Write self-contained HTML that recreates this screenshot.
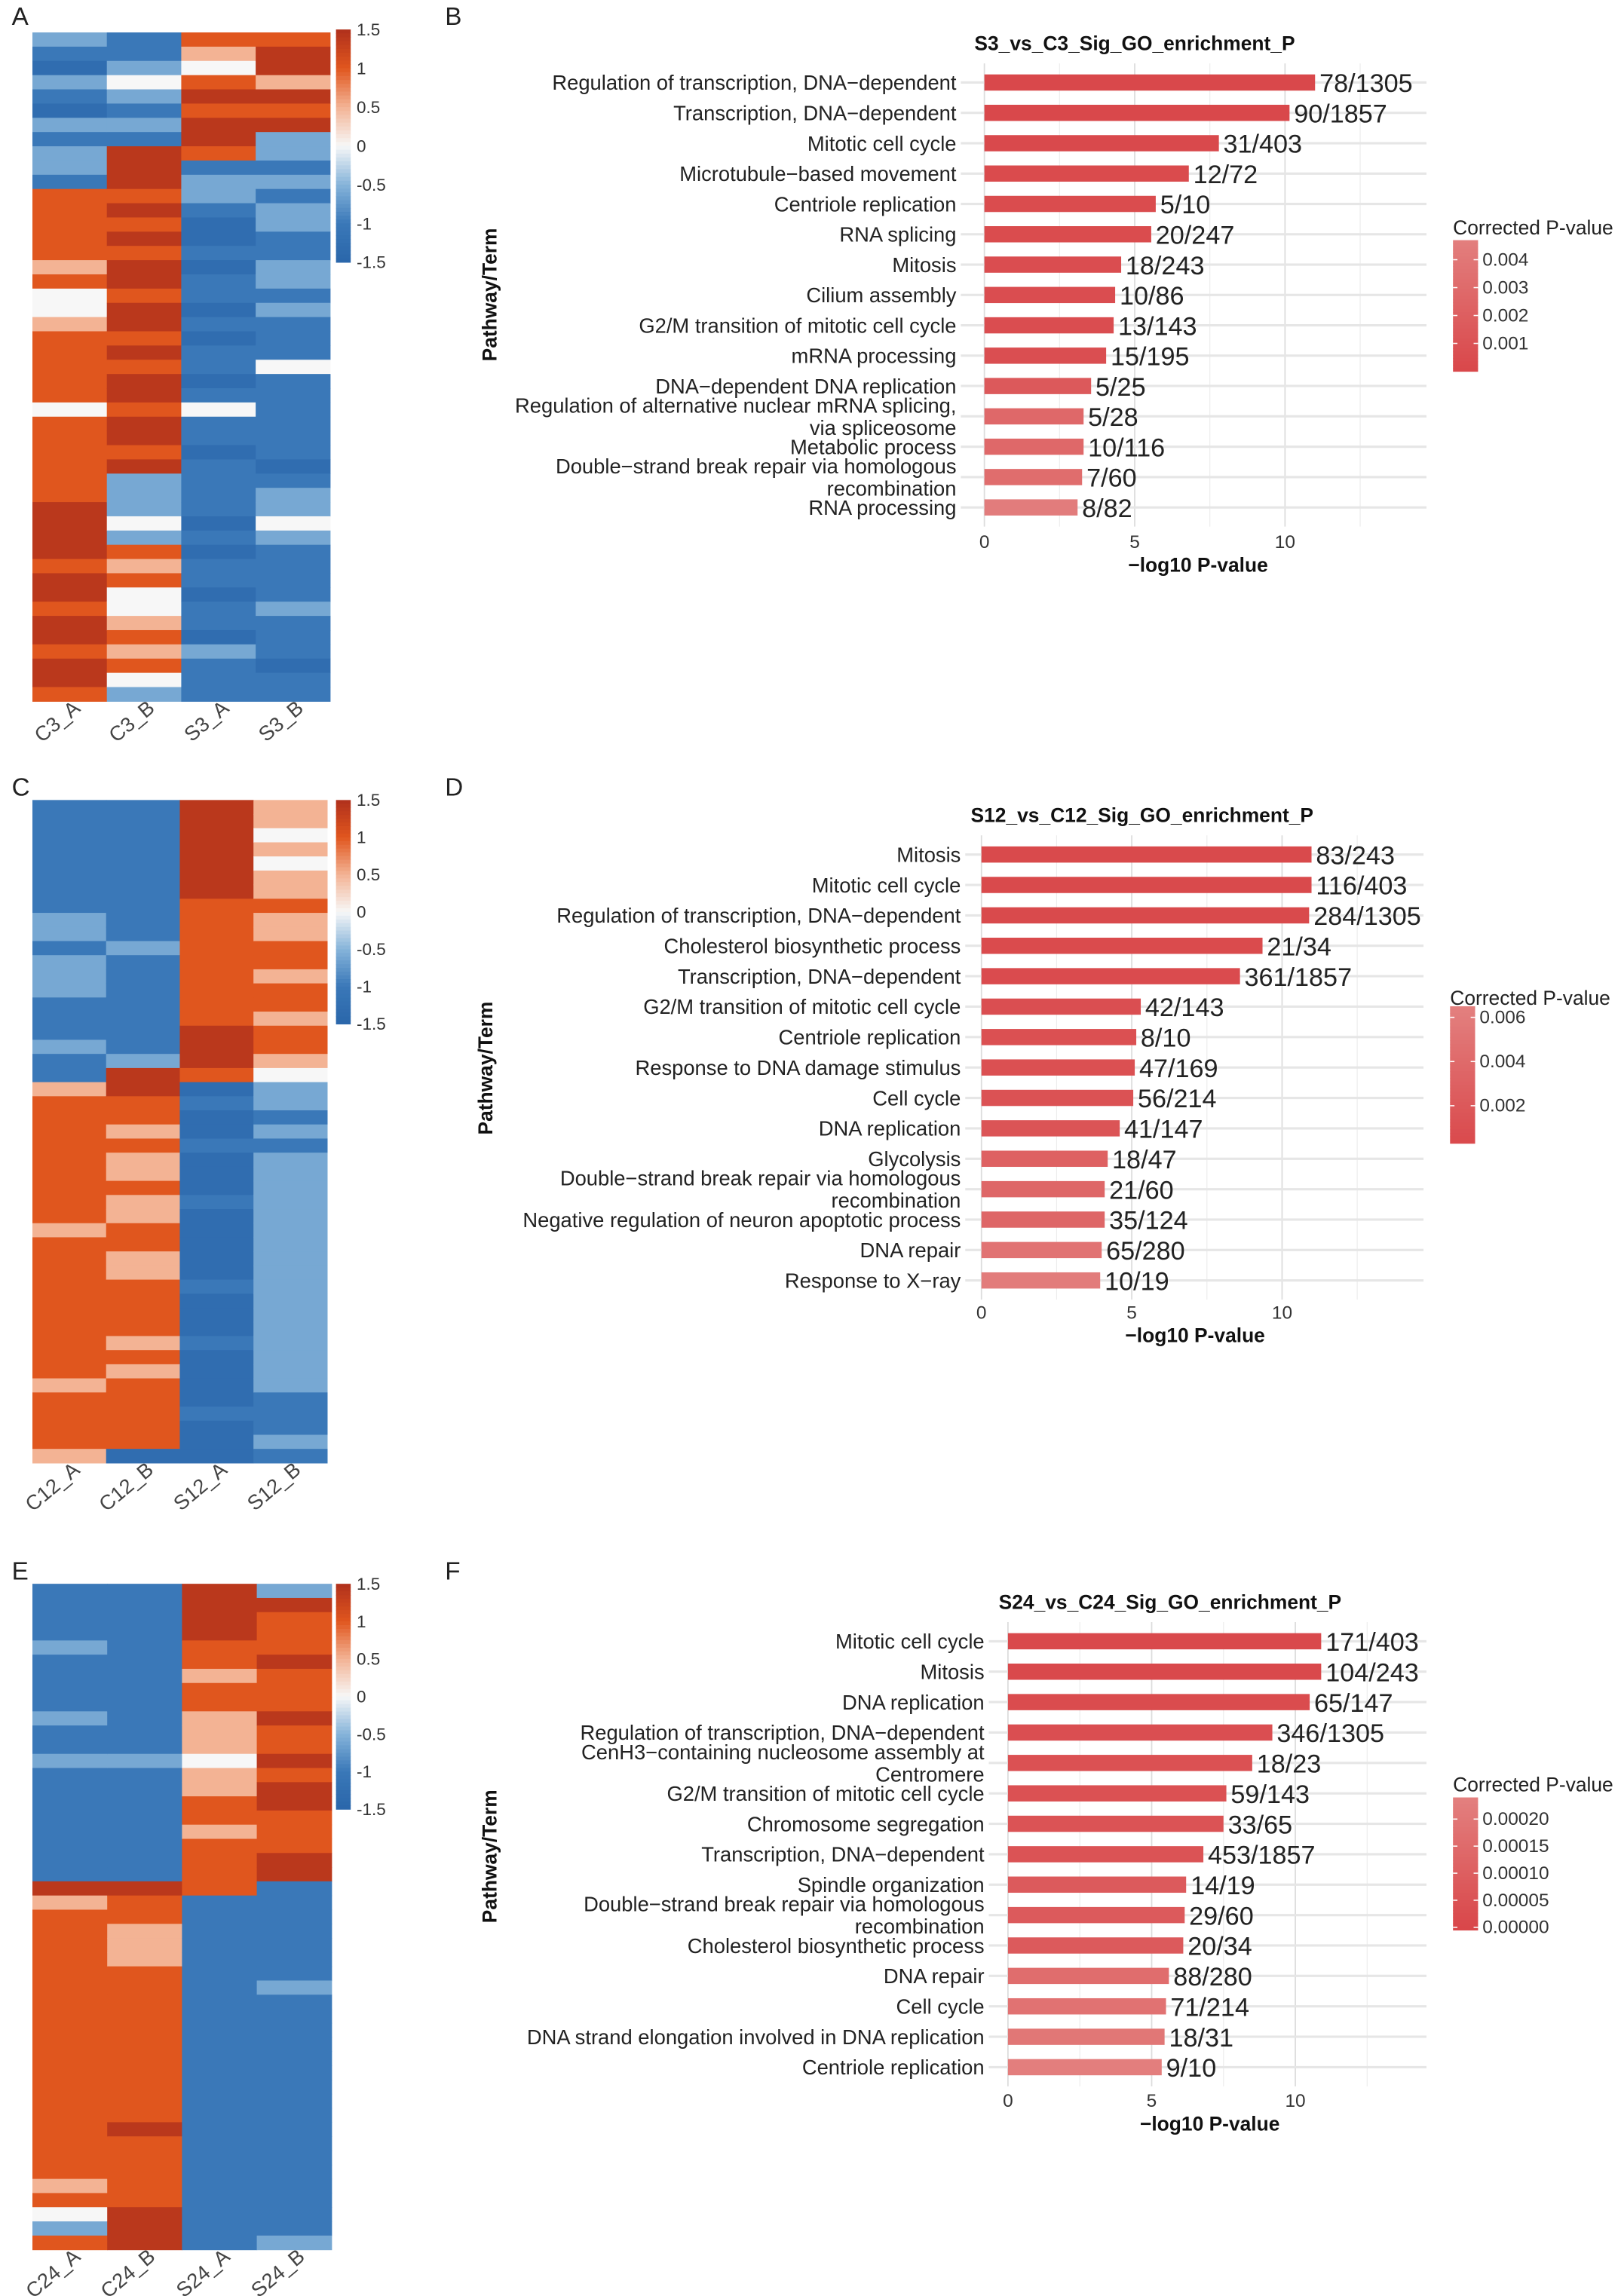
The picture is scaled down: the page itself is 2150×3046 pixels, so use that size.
<!DOCTYPE html>
<html><head><meta charset="utf-8">
<style>
html,body{margin:0;padding:0;background:#fff;}
svg{display:block;font-family:"Liberation Sans Narrow","Liberation Sans",sans-serif;}
</style></head>
<body>
<svg id="fig" width="2150" height="3046" viewBox="0 0 1100 1558.4" xmlns="http://www.w3.org/2000/svg"></svg>
<script>
// ---------- DATA ----------
const termsB = ["Regulation of transcription, DNA\u2212dependent","Transcription, DNA\u2212dependent","Mitotic cell cycle","Microtubule\u2212based movement","Centriole replication","RNA splicing","Mitosis","Cilium assembly","G2/M transition of mitotic cell cycle","mRNA processing","DNA\u2212dependent DNA replication","Regulation of alternative nuclear mRNA splicing,|via spliceosome","Metabolic process","Double\u2212strand break repair via homologous|recombination","RNA processing"];
const valuesB = [11.0,10.15,7.8,6.8,5.7,5.55,4.55,4.35,4.3,4.05,3.55,3.3,3.3,3.25,3.1];
const countsB = ["78/1305","90/1857","31/403","12/72","5/10","20/247","18/243","10/86","13/143","15/195","5/25","5/28","10/116","7/60","8/82"];
const pB = [0.0001,0.0001,0.0002,0.0003,0.0004,0.0004,0.0005,0.0005,0.0005,0.0006,0.0015,0.0028,0.0028,0.0032,0.0045];
const legendTicksB = [0.004,0.003,0.002,0.001];

const termsD = ["Mitosis","Mitotic cell cycle","Regulation of transcription, DNA\u2212dependent","Cholesterol biosynthetic process","Transcription, DNA\u2212dependent","G2/M transition of mitotic cell cycle","Centriole replication","Response to DNA damage stimulus","Cell cycle","DNA replication","Glycolysis","Double\u2212strand break repair via homologous|recombination","Negative regulation of neuron apoptotic process","DNA repair","Response to X\u2212ray"];
const valuesD = [10.98,10.98,10.9,9.35,8.6,5.3,5.15,5.1,5.05,4.6,4.2,4.1,4.1,4.0,3.95];
const countsD = ["83/243","116/403","284/1305","21/34","361/1857","42/143","8/10","47/169","56/214","41/147","18/47","21/60","35/124","65/280","10/19"];
const pD = [0.0003,0.0003,0.0003,0.0004,0.0005,0.0008,0.001,0.001,0.0012,0.0015,0.003,0.0035,0.0035,0.005,0.006];
const legendTicksD = [0.006,0.004,0.002];

const termsF = ["Mitotic cell cycle","Mitosis","DNA replication","Regulation of transcription, DNA\u2212dependent","CenH3\u2212containing nucleosome assembly at|Centromere","G2/M transition of mitotic cell cycle","Chromosome segregation","Transcription, DNA\u2212dependent","Spindle organization","Double\u2212strand break repair via homologous|recombination","Cholesterol biosynthetic process","DNA repair","Cell cycle","DNA strand elongation involved in DNA replication","Centriole replication"];
const valuesF = [10.9,10.9,10.5,9.2,8.5,7.6,7.5,6.8,6.2,6.15,6.1,5.6,5.5,5.45,5.35];
const countsF = ["171/403","104/243","65/147","346/1305","18/23","59/143","33/65","453/1857","14/19","29/60","20/34","88/280","71/214","18/31","9/10"];
const pF = [0.00001,0.00001,0.00002,0.00003,0.00004,0.00004,0.00005,0.00005,0.00008,0.00008,0.00008,0.00016,0.00018,0.0002,0.00023];
const legendTicksF = [0.0002,0.00015,0.0001,0.00005,0];
const xTicks = [0,5,10];

// heatmap columns encoded: B=-1.3 b=-1.0 l=-0.6 w=0 p=0.5 o=1.0 R=1.4
const heatA = {
 "C3_A":"lbBlbBlbllbooooopowwpooooowooooooRRRRoRRoRRoRRo",
 "C3_B":"bblwlblbRRRoRoRoRRoRRoRoRRoRRoRlllwlopowwpopowl",
 "S3_A":"opwoRoRRobllbBBbBbbBbBbbBbwbbBbbbbBbBbbBbbBlbbb",
 "S3_B":"oRRpRoRllblbllbbllblbbbwbbbbbbBbllwlbbbblbbbBbb"
};
const heatC = {
 "C12_A":"bbbbbbbbllblllbbblbbpooooooooopoooooooooopoooop",
 "C12_B":"bbbbbbbbbblbbbbbbblRRoopoppoppooppoooopopoooooB",
 "S12_A":"RRRRRRRoooooooooRRRoBbBBbBBBbBBBBBbBBBbBBBBbBBB",
 "S12_B":"ppwpwppoppoopoopoopwllblblllllllllllllllllbbblb"
};
const heatE = {
 "C24_A":"bbbblbbbblbblbbbbbbbbRpooooooooooooooooooopowlo",
 "C24_B":"bbbbbbbbbbbblbbbbbbbbRoopppoooooooooooRoooooRRR",
 "S24_A":"RRRRoopoopppwppoopoooobbbbbbbbbbbbbbbbbbbbbbbbb",
 "S24_B":"lRoooRoooRooRoRRoooRRbbbbbbblbbbbbbbbbbbbbbbbbl"
};
const codeVal = {B:-1.3,b:-1.0,l:-0.6,w:0,p:0.5,o:1.0,R:1.4};
const cbTicks = [1.5,1,0.5,0,-0.5,-1,-1.5];

// ---------- helpers ----------
const NS="http://www.w3.org/2000/svg";
const svg=document.getElementById('fig');
function mk(tag,attrs,parent){const e=document.createElementNS(NS,tag);for(const k in attrs)e.setAttribute(k,attrs[k]);(parent||svg).appendChild(e);return e;}
function hx(c){return [parseInt(c.slice(1,3),16),parseInt(c.slice(3,5),16),parseInt(c.slice(5,7),16)];}
function mix(a,b,t){const A=hx(a),B=hx(b);return 'rgb('+A.map((v,i)=>Math.round(v+(B[i]-v)*t)).join(',')+')';}
const stops=[[-1.5,'#2a66aa'],[-1.0,'#3a78b8'],[-0.5,'#86b4da'],[0,'#f7f7f7'],[0.5,'#f3b394'],[1.0,'#e0561e'],[1.5,'#b0301c']];
function heatColor(v){for(let i=0;i<stops.length-1;i++){if(v<=stops[i+1][0]){const t=(v-stops[i][0])/(stops[i+1][0]-stops[i][0]);return mix(stops[i][1],stops[i+1][1],Math.max(0,Math.min(1,t)));}}return stops[stops.length-1][1];}

function panelLetter(t,x,y){const e=mk('text',{x:x,y:y,'font-size':17,fill:'#222'});e.textContent=t;

}

function heatmap(name,data,x0,y0,x1,y1,cbY0,cbY1){
  const g=mk('g',{});
  
  
  const cols=Object.keys(data);const cw=(x1-x0)/cols.length;
  cols.forEach((c,ci)=>{
    const s=data[c];const rh=(y1-y0)/s.length;
    for(let r=0;r<s.length;r++){
      const rect=mk('rect',{x:x0+ci*cw,y:y0+r*rh,width:cw+0.3,height:rh+0.3,fill:heatColor(codeVal[s[r]])},g);
      
      
    }
    const lx=x0+ci*cw+cw/2+8, ly=y1+6;
    const t=mk('text',{x:lx,y:ly,'font-size':14,fill:'#444','text-anchor':'end',transform:'rotate(-40 '+lx+' '+ly+')'},g);
    t.textContent=c;
    
    
  });
  const cb=mk('g',{});
  
  
  const n=60,h=(cbY1-cbY0)/n;
  for(let i=0;i<n;i++){const v=1.5-3*(i+0.5)/n;mk('rect',{x:228,y:cbY0+i*h,width:10,height:h+0.3,fill:heatColor(v)},cb);}
  cbTicks.forEach(v=>{const y=cbY0+(1.5-v)/3*(cbY1-cbY0);const t=mk('text',{x:242,y:y+4,'font-size':11.5,fill:'#333'},cb);t.textContent=String(v);
  
  });
}

function barChart(id,title,terms,vals,counts,pv,pmax,legTicks,o){
  const g=mk('g',{});
  
  
  const sx=v=>o.x0+v*o.ppu;
  const rowY=i=>o.y0+i*o.step;
  const lo='#d9474a', hi='#e3807f';
  const pcol=p=>mix(lo,hi,Math.min(1,p/pmax));
  for(let v=2.5;v<=14;v+=2.5){const major=(v%5===0);mk('line',{x1:sx(v),x2:sx(v),y1:rowY(0)-13,y2:rowY(14)+13,stroke:major?'#dcdcdc':'#ececec','stroke-width':major?0.9:0.6},g);}
  mk('line',{x1:sx(0),x2:sx(0),y1:rowY(0)-13,y2:rowY(14)+13,stroke:'#dcdcdc','stroke-width':0.9},g);
  terms.forEach((t,i)=>{mk('line',{x1:o.lab+3,x2:o.right,y1:rowY(i),y2:rowY(i),stroke:'#e6e6e6','stroke-width':1.6},g);});
  const tt=mk('text',{x:o.tx,y:o.ty,'font-size':13.5,'font-weight':'bold','text-anchor':'middle',fill:'#111'},g);tt.textContent=title;
  
  
  terms.forEach((t,i)=>{
    const y=rowY(i);
    const bar=mk('rect',{x:sx(0),y:y-5.5,width:sx(vals[i])-sx(0),height:11,fill:pcol(pv[i])},g);
    
    
    const parts=t.split('|');
    parts.forEach((p,k)=>{
      const yy=parts.length===1?y+5:y-7+k*15+4.5;
      const lt=mk('text',{x:o.lab,y:yy,'font-size':14,'text-anchor':'end',fill:'#222'},g);lt.textContent=p;
      
      
    });
    const ct=mk('text',{x:sx(vals[i])+3,y:y+6.5,'font-size':17.5,fill:'#222'},g);ct.textContent=counts[i];
    
    
  });
  xTicks.forEach(v=>{const t=mk('text',{x:sx(v),y:o.tickY,'font-size':12.5,'text-anchor':'middle',fill:'#333'},g);t.textContent=String(v);
  
  });
  const xt=mk('text',{x:(sx(0)+o.right)/2-5,y:o.tickY+16,'font-size':13.5,'font-weight':'bold','text-anchor':'middle',fill:'#111'},g);xt.textContent='\u2212log10 P-value';
  
  
  const yt=mk('text',{x:o.yTx,y:o.yTy,'font-size':13.5,'font-weight':'bold','text-anchor':'middle',fill:'#111',transform:'rotate(-90 '+o.yTx+' '+o.yTy+')'},g);yt.textContent='Pathway/Term';
  
  
  const lg=mk('g',{},g);
  
  
  const lt=mk('text',{x:o.lx,y:o.lty,'font-size':13.5,fill:'#222'},lg);lt.textContent='Corrected P-value';
  const n=40,h=(o.lb-o.ltop)/n;
  for(let i=0;i<n;i++){const p=o.ptop-(o.ptop-o.pbot)*(i+0.5)/n;mk('rect',{x:o.lx,y:o.ltop+i*h,width:17,height:h+0.3,fill:pcol(p)},lg);}
  legTicks.forEach(p=>{const y=o.ltop+(o.ptop-p)/(o.ptop-o.pbot)*(o.lb-o.ltop);
    mk('line',{x1:o.lx,x2:o.lx+3,y1:y,y2:y,stroke:'#fff','stroke-width':0.8},lg);mk('line',{x1:o.lx+14,x2:o.lx+17,y1:y,y2:y,stroke:'#fff','stroke-width':0.8},lg);
    const t=mk('text',{x:o.lx+20,y:y+4,'font-size':12.5,fill:'#333'},lg);t.textContent=(legTicks===legendTicksF)?p.toFixed(5):String(p);
    
    });
}

panelLetter('A',8,17);panelLetter('B',302,17);
panelLetter('C',8,540);panelLetter('D',302,540);
panelLetter('E',8,1072);panelLetter('F',302,1072);

heatmap('heatmap-a',heatA,22,22,224,476,20,178);
heatmap('heatmap-c',heatC,22,543,222,993,543,695);
heatmap('heatmap-e',heatE,22,1075,225,1527,1075,1228);

barChart('chart-b','S3_vs_C3_Sig_GO_enrichment_P',termsB,valuesB,countsB,pB,0.0048,legendTicksB,
 {x0:668,ppu:20.4,y0:56,step:20.6,right:968,lab:649,tx:770,ty:34,tickY:372,yTx:337,yTy:200,
  lx:986,lty:159,ltop:163,lb:252,ptop:0.0047,pbot:0});
barChart('chart-d','S12_vs_C12_Sig_GO_enrichment_P',termsD,valuesD,countsD,pD,0.0065,legendTicksD,
 {x0:666,ppu:20.4,y0:580,step:20.65,right:966,lab:652,tx:775,ty:558,tickY:895,yTx:334,yTy:725,
  lx:984,lty:682,ltop:683,lb:776,ptop:0.0065,pbot:0.0003});
barChart('chart-f','S24_vs_C24_Sig_GO_enrichment_P',termsF,valuesF,countsF,pF,0.00024,legendTicksF,
 {x0:684,ppu:19.5,y0:1114,step:20.65,right:968,lab:668,tx:794,ty:1092,tickY:1430,yTx:337,yTy:1260,
  lx:986,lty:1216,ltop:1220,lb:1310,ptop:0.00024,pbot:-0.000005});
</script>
</body></html>
